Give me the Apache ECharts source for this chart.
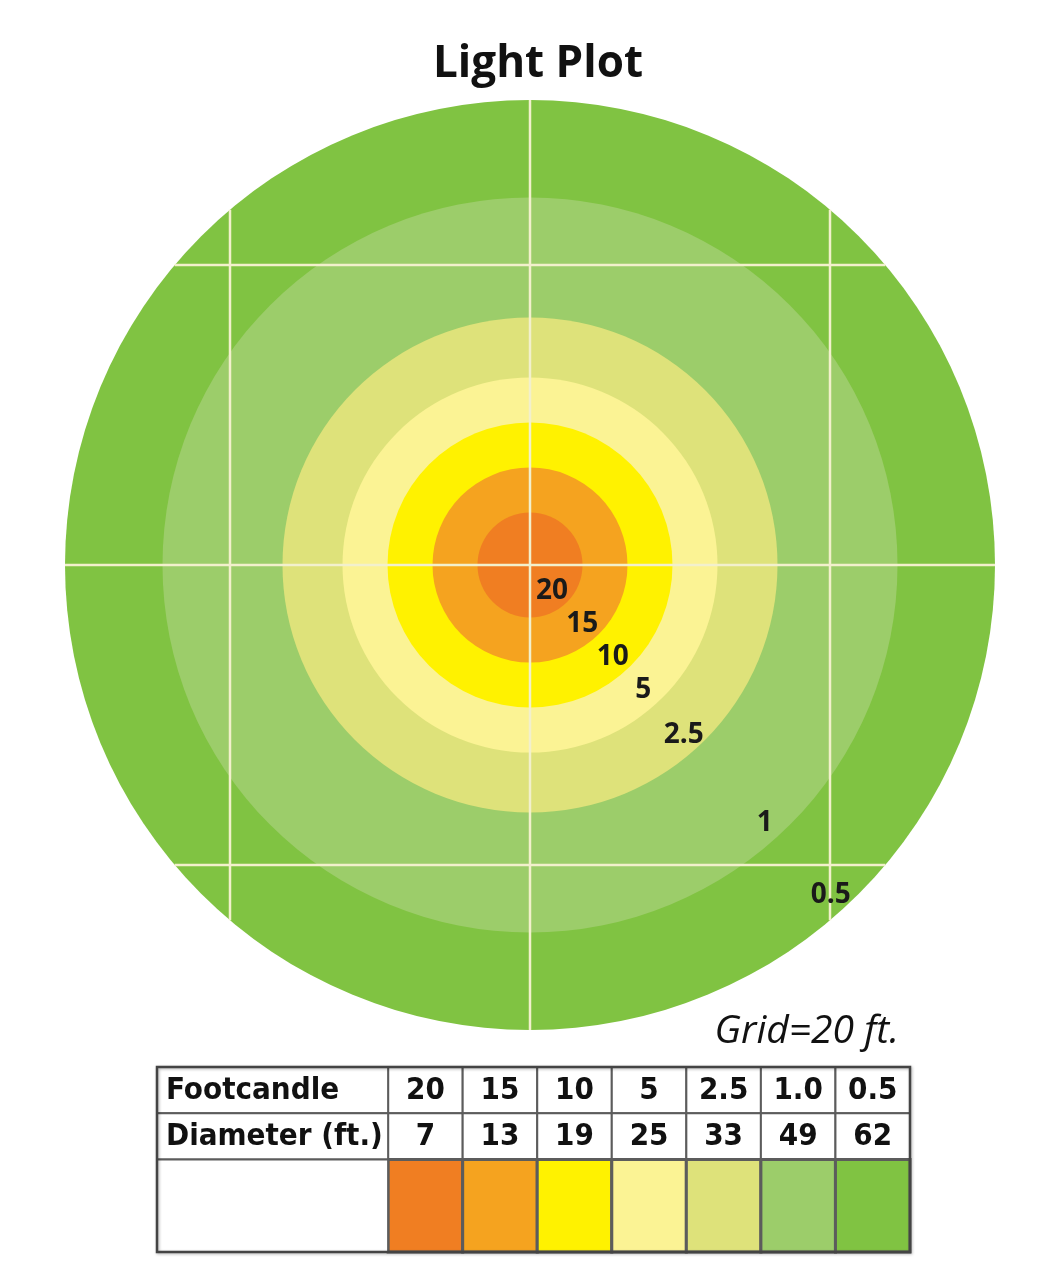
<!DOCTYPE html>
<html><head><meta charset="utf-8">
<script src="https://cdn.jsdelivr.net/npm/echarts@6/dist/echarts.min.js"></script>
<style>html,body{margin:0;padding:0;background:#fff}#c{width:1058px;height:1280px}</style>
</head><body><div id="c"></div>
<script>
// ---- data ----
const footcandles = ['20', '15', '10', '5', '2.5', '1.0', '0.5'];
const ringLabels = ['20', '15', '10', '5', '2.5', '1', '0.5'];
const diameters = [7, 13, 19, 25, 33, 49, 62];
const ringColors = ['#f07e22', '#f5a31f', '#fff200', '#fbf394', '#dee27a', '#9ccd6a', '#80c342'];
const gridLinesFt = [-20, 0, 20];
const rowTitles = ['Footcandle', 'Diameter (ft.)', ''];
const titleText = 'Light Plot';
const gridNote = 'Grid=20 ft.';

const chart = echarts.init(document.getElementById('c'));
const R = diameters[diameters.length - 1] / 2;
const tableFont = 'bold 31px "DejaVu Sans Condensed", "DejaVu Sans", sans-serif';
const rowSpans = [[3, 4], [2, 3], [0, 2]];

const ringData = diameters.map((d, i) => [0, 0, d, i]).reverse();
const gridData = [];
gridLinesFt.forEach(g => { gridData.push([g, 0]); gridData.push([g, 1]); });

chart.setOption({
  animation: false,
  backgroundColor: '#fff',
  title: {
    text: titleText, left: 533, textAlign: 'center', top: 37,
    textStyle: { fontFamily: 'Open Sans', fontWeight: 'bold', fontSize: 44, color: '#111' }
  },
  grid: [
    { left: 20, width: 1020, top: 55, height: 1020 },
    { left: 157, width: 753, top: 1067, height: 185 }
  ],
  xAxis: [
    { type: 'value', min: -34, max: 34, show: false, gridIndex: 0 },
    { type: 'value', min: -3.1, max: 7, show: false, gridIndex: 1 }
  ],
  yAxis: [
    { type: 'value', min: -34, max: 34, show: false, gridIndex: 0 },
    { type: 'value', min: 0, max: 4, show: false, gridIndex: 1 }
  ],
  graphic: [{
    type: 'text', right: 1058 - 899, top: 1012,
    style: { text: gridNote, font: 'italic 39px "Open Sans", sans-serif', fill: '#111' }
  }],
  series: [
    {
      type: 'custom', xAxisIndex: 0, yAxisIndex: 0, z: 1, silent: true,
      data: ringData,
      renderItem: (params, api) => {
        const c = api.coord([api.value(0), api.value(1)]);
        const r = api.size([api.value(2) / 2, 0])[0];
        return { type: 'circle', shape: { cx: c[0], cy: c[1], r: r },
                 style: { fill: ringColors[api.value(3)] } };
      }
    },
    {
      type: 'custom', xAxisIndex: 0, yAxisIndex: 0, z: 2, silent: true,
      data: gridData,
      renderItem: (params, api) => {
        const g = api.value(0);
        const half = Math.sqrt(R * R - g * g);
        let p1, p2;
        if (api.value(1) === 0) { p1 = api.coord([g, -half]); p2 = api.coord([g, half]); }
        else { p1 = api.coord([-half, g]); p2 = api.coord([half, g]); }
        return { type: 'line', shape: { x1: p1[0], y1: p1[1], x2: p2[0], y2: p2[1] },
                 style: { stroke: '#f2f0cc', lineWidth: 2.5 } };
      }
    },
    {
      type: 'custom', xAxisIndex: 0, yAxisIndex: 0, z: 3, silent: true,
      data: diameters.map((d, i) => [0, 0, d, i]),
      renderItem: (params, api) => {
        const c = api.coord([0, 0]);
        const r = api.size([api.value(2) / 2, 0])[0] - 20;
        const a = 47.5 * Math.PI / 180;
        return { type: 'text',
                 style: { text: ringLabels[api.value(3)], x: c[0] + r * Math.cos(a), y: c[1] + r * Math.sin(a) + 2,
                          textAlign: 'center', verticalAlign: 'middle',
                          font: 'bold 28px "Open Sans", sans-serif', fill: '#1a1a1a' } };
      }
    },
    {
      // table data columns
      type: 'custom', xAxisIndex: 1, yAxisIndex: 1, z: 4, silent: true,
      data: footcandles.map((f, i) => [i, diameters[i]]),
      renderItem: (params, api) => {
        const i = api.value(0);
        const children = [];
        rowSpans.forEach((s, k) => {
          const tl = api.coord([i, s[1]]);
          const br = api.coord([i + 1, s[0]]);
          children.push({ type: 'rect', shape: { x: tl[0], y: tl[1], width: br[0] - tl[0], height: br[1] - tl[1] },
            style: { fill: k === 2 ? ringColors[i] : '#fff', stroke: '#5c5c5c', lineWidth: k === 2 ? 3 : 2 } });
          if (k < 2) {
            children.push({ type: 'text', style: {
              text: k === 0 ? footcandles[i] : String(api.value(1)),
              x: (tl[0] + br[0]) / 2, y: (tl[1] + br[1]) / 2 + 1,
              textAlign: 'center', verticalAlign: 'middle', font: tableFont, fill: '#111' } });
          }
        });
        return { type: 'group', children: children };
      }
    },
    {
      // table title column
      type: 'custom', xAxisIndex: 1, yAxisIndex: 1, z: 4, silent: true,
      data: rowTitles.map((t, k) => [k]),
      renderItem: (params, api) => {
        const k = api.value(0);
        const s = rowSpans[k];
        const tl = api.coord([-3.1, s[1]]);
        const br = api.coord([0, s[0]]);
        return { type: 'group', children: [
          { type: 'rect', shape: { x: tl[0], y: tl[1], width: br[0] - tl[0], height: br[1] - tl[1] },
            style: { fill: '#fff', stroke: '#5c5c5c', lineWidth: 2 } },
          { type: 'text', style: { text: rowTitles[k], x: tl[0] + 9, y: (tl[1] + br[1]) / 2 + 1,
            textAlign: 'left', verticalAlign: 'middle', font: tableFont, fill: '#111' } }
        ] };
      }
    },
    {
      // outer table border
      type: 'custom', xAxisIndex: 1, yAxisIndex: 1, z: 5, silent: true,
      data: [[0]],
      renderItem: (params, api) => {
        const tl = api.coord([-3.1, 4]);
        const br = api.coord([footcandles.length, 0]);
        return { type: 'rect', shape: { x: tl[0], y: tl[1], width: br[0] - tl[0], height: br[1] - tl[1] },
          style: { fill: 'none', stroke: '#444', lineWidth: 2.5, shadowBlur: 3, shadowColor: 'rgba(0,0,0,0.3)', shadowOffsetX: 1, shadowOffsetY: 1 } };
      }
    }
  ]
});
</script>
</body></html>
